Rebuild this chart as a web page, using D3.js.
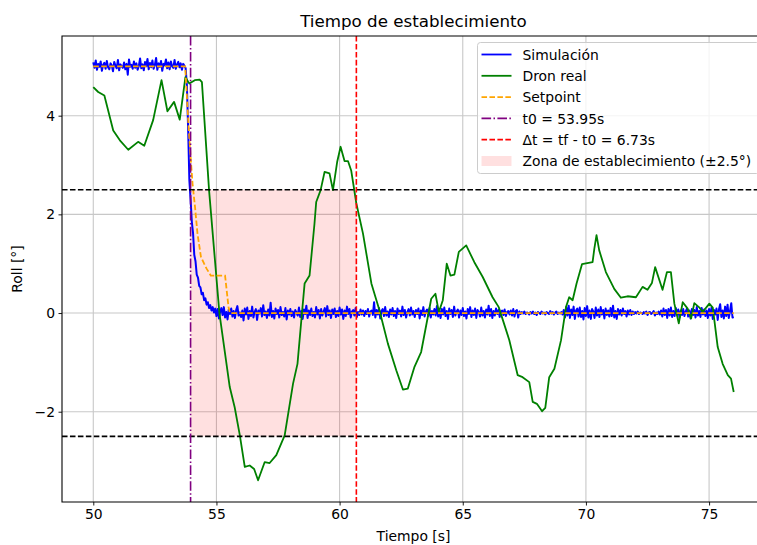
<!DOCTYPE html>
<html>
<head>
<meta charset="utf-8">
<script src="https://cdn.jsdelivr.net/npm/d3@7"></script>
<style>
  html, body { margin: 0; padding: 0; background: #fff; }
  svg { display: block; font-family: "DejaVu Sans", sans-serif; }
</style>
</head>
<body>
<svg id="chart" width="757" height="545"></svg>
<script>
// ---- Data --------------------------------------------------------------
// Simulated roll, sampled every simStep seconds from simStart
const simStart = 50;
const simStep = 0.05;
const simRoll = [
  5.08,4.97,5.12,4.93,5.05,4.99,5.10,4.91,5.03,5.07,4.95,5.11,4.98,4.94,5.06,5.02,4.90,5.09,5.01,4.96,
  5.13,4.92,5.04,5.00,4.97,5.08,4.94,5.05,4.83,5.14,4.99,5.03,4.95,5.10,4.97,5.06,4.93,5.01,5.16,4.96,
  5.04,4.92,5.09,5.00,5.15,4.94,5.07,4.98,5.12,4.95,5.03,5.17,4.93,5.06,4.99,5.11,4.91,5.05,5.02,5.14,
  4.96,5.08,4.94,5.10,5.00,4.97,5.13,4.95,5.04,5.09,4.98,5.06,4.93,5.05,5.01,
  4.96,4.62,3.75,2.70,2.30,1.85,1.62,1.18,1.05,0.78,0.72,0.55,0.52,0.38,0.41,0.26,0.30,0.17,0.22,0.10,0.16,0.05,0.12,0.01,0.09,
  -0.06,0.08,-0.11,0.03,0.10,-0.04,0.12,-0.09,0.02,-0.13,0.07,-0.02,0.09,-0.07,0.04,-0.10,0.06,0.14,-0.05,0.01,
  -0.08,0.05,-0.15,0.09,-0.03,0.11,-0.12,0.04,-0.06,0.13,-0.09,0.02,0.08,-0.14,0.05,-0.01,0.10,-0.07,0.16,-0.04,
  0.03,-0.10,0.07,-0.05,0.21,-0.08,0.04,-0.11,0.09,-0.02,0.06,-0.09,0.12,-0.04,0.02,-0.07,0.10,-0.13,0.05,-0.03,
  0.08,-0.06,0.03,-0.09,0.06,0.01,-0.05,0.11,-0.08,0.04,-0.12,0.07,-0.02,0.15,-0.10,0.05,-0.04,0.09,-0.06,0.02,
  -0.09,0.12,-0.03,0.06,-0.11,0.08,-0.05,0.03,0.10,-0.07,0.14,-0.04,0.05,-0.10,0.07,-0.02,0.09,-0.08,0.04,-0.06,
  0.11,-0.03,0.07,-0.12,0.05,-0.06,0.13,-0.02,0.08,-0.09,0.03,0.06,-0.05,0.10,-0.08,0.02,-0.04,0.07,-0.03,0.05,
  -0.06,0.04,-0.02,0.08,-0.07,0.03,0.05,-0.04,0.22,-0.09,0.06,-0.03,0.10,-0.11,0.04,0.08,-0.06,0.12,-0.05,0.03,
  -0.08,0.07,-0.03,0.10,-0.06,0.04,-0.10,0.09,-0.02,0.05,-0.07,0.13,-0.04,0.06,-0.09,0.02,0.08,-0.05,0.11,-0.03,
  0.04,-0.08,0.06,-0.02,0.09,-0.11,0.05,-0.04,0.12,-0.07,0.03,0.07,-0.06,0.10,-0.09,0.04,-0.03,0.08,-0.05,0.14,
  -0.07,0.05,-0.10,0.08,-0.03,0.11,-0.06,0.04,-0.12,0.09,-0.02,0.06,-0.08,0.13,-0.05,0.03,0.07,-0.09,0.05,-0.04,
  0.10,-0.06,0.03,-0.11,0.08,-0.02,0.12,-0.08,0.05,-0.04,0.09,-0.10,0.06,0.02,-0.07,0.11,-0.05,0.04,-0.09,0.07,
  -0.03,0.15,-0.06,0.08,-0.10,0.04,-0.05,0.09,-0.02,0.06,-0.08,0.03,0.05,-0.04,0.07,-0.06,0.02,0.04,-0.03,0.05,
  -0.05,0.08,-0.07,0.04,0.06,-0.09,0.03,-0.02,0.02,-0.01,0.03,-0.02,0.01,0.00,-0.03,0.02,-0.01,0.03,-0.02,0.01,
  -0.04,0.02,0.00,-0.02,0.03,-0.01,0.01,-0.03,0.02,0.00,-0.02,0.04,-0.01,0.02,-0.03,0.01,0.03,-0.02,0.01,-0.01,
  0.02,-0.03,0.06,-0.09,0.12,-0.05,0.15,-0.10,0.07,-0.04,0.13,-0.12,0.05,0.09,-0.07,0.11,-0.08,0.04,-0.13,0.10,
  -0.06,0.14,-0.09,0.05,-0.12,0.08,0.03,-0.10,0.11,-0.05,0.07,-0.08,0.12,-0.03,0.06,-0.11,0.09,-0.04,0.05,-0.07,
  0.10,-0.06,0.15,-0.09,0.04,-0.12,0.08,-0.03,0.06,-0.05,0.09,-0.02,0.04,-0.07,0.05,-0.03,0.06,-0.04,0.03,-0.02,
  0.02,-0.01,0.03,-0.02,0.01,0.00,-0.02,0.02,-0.01,0.03,-0.04,0.01,0.02,-0.02,0.00,0.04,-0.05,0.01,-0.02,0.03,
  -0.03,0.05,-0.07,0.09,-0.04,0.06,-0.10,0.08,-0.05,0.11,-0.08,0.04,-0.06,0.10,-0.03,0.07,-0.09,0.05,-0.04,0.08,
  -0.06,0.03,0.09,-0.07,0.05,-0.11,0.08,-0.04,0.06,-0.09,0.12,-0.05,0.04,-0.08,0.10,-0.03,0.07,-0.06,0.05,-0.10,
  0.08,-0.05,0.11,-0.12,0.06,-0.03,0.09,-0.14,0.07,0.18,-0.08,0.05,-0.11,0.13,-0.06,0.17,-0.10,0.04,0.20,-0.09,-0.08
];

// Measured roll of the real drone
const realTime = [
  50.0,50.2,50.45,50.81,51.08,51.42,51.82,52.07,52.43,52.77,53.01,53.28,53.51,53.74,53.9,54.12,54.32,54.41,54.7,55.12,
  55.54,55.74,55.95,56.15,56.35,56.53,56.69,56.96,57.16,57.43,57.77,58.11,58.29,58.47,58.58,58.78,58.98,59.05,59.23,59.39,
  59.59,59.73,59.9,60.04,60.2,60.34,60.47,60.68,60.95,61.29,61.62,61.96,62.3,62.57,62.77,63.04,63.31,63.58,63.72,63.89,
  64.03,64.19,64.35,64.5,64.66,64.84,65.14,65.47,65.81,66.21,66.46,66.89,67.23,67.43,67.7,67.84,68.01,68.22,68.35,68.51,
  68.72,68.99,69.19,69.32,69.46,69.62,69.84,70.27,70.34,70.43,70.54,70.81,71.15,71.42,71.69,72.03,72.3,72.5,72.68,72.81,
  73.11,73.29,73.45,73.59,73.77,73.93,74.13,74.27,74.4,74.61,74.74,75.01,75.15,75.35,75.55,75.76,75.89,76.0
];
const realRoll = [
  4.58,4.48,4.41,3.70,3.50,3.31,3.47,3.39,3.91,4.72,4.09,4.28,3.92,4.78,4.65,4.72,4.73,4.68,2.49,0.0,
  -1.50,-1.91,-2.48,-3.12,-3.09,-3.16,-3.39,-3.02,-3.04,-2.88,-2.48,-1.43,-1.03,-0.01,0.60,0.76,1.81,2.25,2.49,2.86,
  2.83,2.49,3.06,3.37,3.08,3.08,2.89,2.22,1.61,0.60,0.05,-0.62,-1.16,-1.55,-1.53,-1.09,-0.79,-0.08,0.29,0.39,
  0.02,0.26,1.00,0.76,0.78,1.24,1.37,1.03,0.73,0.32,0.12,-0.55,-1.26,-1.30,-1.40,-1.80,-1.84,-1.99,-1.92,-1.30,
  -1.13,-0.55,0.12,0.32,0.26,0.60,0.99,1.03,1.30,1.58,1.27,0.83,0.49,0.31,0.34,0.32,0.53,0.47,0.61,0.93,
  0.47,0.83,0.83,0.19,-0.21,0.22,0.09,-0.11,0.20,0.11,0.02,0.19,0.11,-0.69,-1.03,-1.26,-1.33,-1.60
];

// Roll setpoint
const setTime = [50.0,53.73,53.80,53.87,53.96,54.03,54.13,54.23,54.37,54.50,54.60,54.77,55.35,55.49,55.55,76.0];
const setRoll = [5.0,5.0,4.40,3.77,3.10,2.62,2.15,1.61,1.14,1.00,0.90,0.76,0.76,0.12,0.0,0.0];

// Settling analysis
const t0 = 53.95;
const dt = 6.73;
const band = 2.5;

const xTicks = [50, 55, 60, 65, 70, 75];
const yTicks = [-2, 0, 2, 4];

const legendItems = [
  { label: "Simulación", kind: "line", color: "#0000ff", dash: null },
  { label: "Dron real", kind: "line", color: "#008000", dash: null },
  { label: "Setpoint", kind: "line", color: "#ffa500", dash: "5.55,2.4" },
  { label: "t0 = " + t0.toFixed(2) + "s", kind: "line", color: "#800080", dash: "9.6,2.4,1.5,2.4" },
  { label: "Δt = tf - t0 = " + dt.toFixed(2) + "s", kind: "line", color: "#ff0000", dash: "5.55,2.4" },
  { label: "Zona de establecimiento (±2.5°)", kind: "patch", color: "#ff0000" }
];

// ---- Layout ------------------------------------------------------------
const mLeft = 62, mTop = 36, mRight = 765, mBottom = 502;
const lineW = 1.8;
const svg = d3.select("#chart");

const x = d3.scaleLinear().domain([48.73, 77.27]).range([mLeft, mRight]);
const y = d3.scaleLinear().domain([-3.83, 5.615]).range([mBottom, mTop]);

svg.append("defs").append("clipPath").attr("id", "plot-clip")
  .append("rect").attr("x", mLeft).attr("y", mTop)
  .attr("width", mRight - mLeft).attr("height", mBottom - mTop);

// Grid
const grid = svg.append("g").attr("stroke", "#c8c8c8").attr("stroke-width", 1.1);
grid.selectAll("line.gx").data(xTicks).join("line")
  .attr("x1", d => x(d)).attr("x2", d => x(d)).attr("y1", mTop).attr("y2", mBottom);
grid.selectAll("line.gy").data(yTicks).join("line")
  .attr("x1", mLeft).attr("x2", mRight).attr("y1", d => y(d)).attr("y2", d => y(d));

const plot = svg.append("g").attr("clip-path", "url(#plot-clip)");

// Settling zone
plot.append("rect")
  .attr("x", x(t0)).attr("y", y(band))
  .attr("width", x(t0 + dt) - x(t0)).attr("height", y(-band) - y(band))
  .attr("fill", "#ff0000").attr("fill-opacity", 0.12);

// Series
const simLine = d3.line()
  .x((d, i) => x(simStart + i * simStep))
  .y(d => y(d));
plot.append("path").datum(simRoll)
  .attr("d", simLine).attr("fill", "none")
  .attr("stroke", "#0000ff").attr("stroke-width", 2).attr("stroke-linejoin", "round");

const pairLine = d3.line().x(d => x(d[0])).y(d => y(d[1]));
plot.append("path").datum(d3.zip(realTime, realRoll))
  .attr("d", pairLine).attr("fill", "none")
  .attr("stroke", "#008000").attr("stroke-width", lineW).attr("stroke-linejoin", "round");

plot.append("path").datum(d3.zip(setTime, setRoll))
  .attr("d", pairLine).attr("fill", "none")
  .attr("stroke", "#ffa500").attr("stroke-width", lineW).attr("stroke-dasharray", "5.55,2.4");

// Band limits
plot.selectAll("line.band").data([band, -band]).join("line")
  .attr("x1", mLeft).attr("x2", mRight)
  .attr("y1", d => y(d)).attr("y2", d => y(d))
  .attr("stroke", "#000").attr("stroke-width", 1.6).attr("stroke-dasharray", "5.55,2.4");

// t0 and tf markers
plot.append("line")
  .attr("x1", x(t0)).attr("x2", x(t0)).attr("y1", mTop).attr("y2", mBottom)
  .attr("stroke", "#800080").attr("stroke-width", 1.6).attr("stroke-dasharray", "9.6,2.4,1.5,2.4");
plot.append("line")
  .attr("x1", x(t0 + dt)).attr("x2", x(t0 + dt)).attr("y1", mTop).attr("y2", mBottom)
  .attr("stroke", "#ff0000").attr("stroke-width", 1.6).attr("stroke-dasharray", "5.55,2.4");

// Axes
const fmt = d3.format("d");
const xAxis = svg.append("g").attr("transform", `translate(0,${mBottom})`)
  .call(d3.axisBottom(x).tickValues(xTicks).tickFormat(fmt).tickSize(3.5).tickPadding(3.5));
const yAxis = svg.append("g").attr("transform", `translate(${mLeft},0)`)
  .call(d3.axisLeft(y).tickValues(yTicks).tickFormat(fmt).tickSize(3.5).tickPadding(3.5));
[xAxis, yAxis].forEach(a => {
  a.select(".domain").remove();
  a.selectAll(".tick line").attr("stroke", "#000").attr("stroke-width", 0.9);
  a.selectAll(".tick text").attr("fill", "#000").attr("font-size", "13.9px")
    .attr("font-family", "DejaVu Sans, sans-serif");
});
xAxis.selectAll(".tick text").attr("dy", "0.73em");

// Spines
svg.append("path")
  .attr("d", `M${mRight},${mTop}H${mLeft}V${mBottom}H${mRight}`)
  .attr("fill", "none").attr("stroke", "#000").attr("stroke-width", 1.1);

// Titles
svg.append("text").attr("x", (mLeft + mRight) / 2).attr("y", 27)
  .attr("text-anchor", "middle").attr("font-size", "16.7px").text("Tiempo de establecimiento");
svg.append("text").attr("x", (mLeft + mRight) / 2).attr("y", 541)
  .attr("text-anchor", "middle").attr("font-size", "13.9px").text("Tiempo [s]");
svg.append("text")
  .attr("transform", `translate(22,${(mTop + mBottom) / 2}) rotate(-90)`)
  .attr("text-anchor", "middle").attr("font-size", "13.9px").text("Roll [°]");

// Legend
const lg = svg.append("g").attr("transform", "translate(477.5,42.5)");
lg.append("rect").attr("width", 282).attr("height", 131).attr("rx", 3)
  .attr("fill", "#fff").attr("fill-opacity", 0.8)
  .attr("stroke", "#cccccc").attr("stroke-width", 1);
const rowH = 21.3;
const rows = lg.selectAll("g.item").data(legendItems).join("g")
  .attr("transform", (d, i) => `translate(0,${12 + i * rowH})`);
rows.filter(d => d.kind === "line").append("line")
  .attr("x1", 4).attr("x2", 34).attr("y1", 0).attr("y2", 0)
  .attr("stroke", d => d.color).attr("stroke-width", lineW)
  .attr("stroke-dasharray", d => d.dash);
rows.filter(d => d.kind === "patch").append("rect")
  .attr("x", 4).attr("y", -5).attr("width", 30).attr("height", 10)
  .attr("fill", d => d.color).attr("fill-opacity", 0.12);
rows.append("text").attr("x", 45).attr("y", 5.3)
  .attr("font-size", "13.9px").attr("fill", "#000").text(d => d.label);
</script>
</body>
</html>
